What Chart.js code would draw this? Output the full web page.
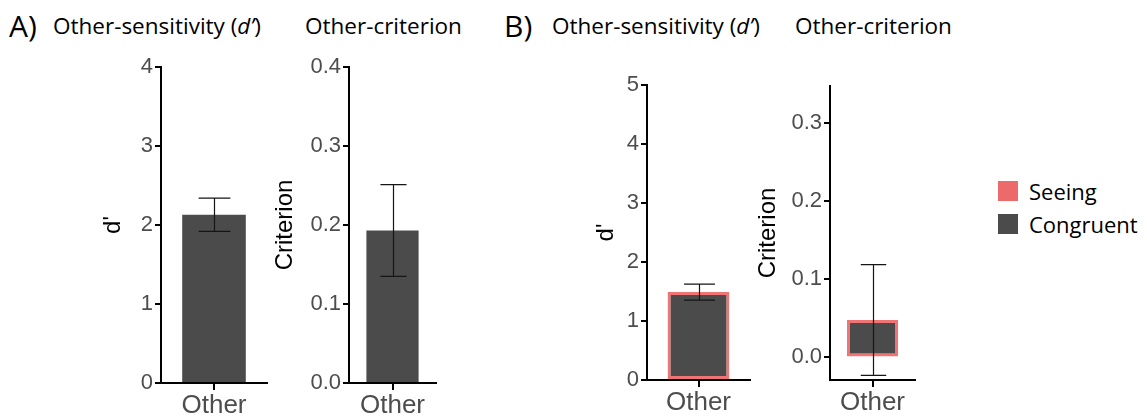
<!DOCTYPE html>
<html>
<head>
<meta charset="utf-8">
<script src="https://cdn.jsdelivr.net/npm/chart.js@4/dist/chart.umd.min.js"></script>
<style>
  html, body { margin: 0; padding: 0; background: #fff; }
  body { width: 1147px; height: 417px; position: relative; overflow: hidden; }
  canvas { position: absolute; }
  .txt { position: absolute; font-family: 'Open Sans', sans-serif; color: #000; white-space: nowrap; line-height: 1; }
  .head { font-size: 22.5px; top: 15px; }
  .tag { font-size: 30px; top: 11px; }
  .swatch { position: absolute; width: 20px; height: 20px; }
  .leg { font-size: 22px; }
</style>
</head>
<body>
<div class="txt tag" style="left:9px">A)</div>
<div class="txt head" style="left:53px">Other-sensitivity (<i>d’</i>)</div>
<div class="txt head" style="left:305px">Other-criterion</div>
<div class="txt tag" style="left:504px">B)</div>
<div class="txt head" style="left:552px">Other-sensitivity (<i>d’</i>)</div>
<div class="txt head" style="left:795px">Other-criterion</div>

<canvas id="aSens"></canvas>
<canvas id="aCrit"></canvas>
<canvas id="bSens"></canvas>
<canvas id="bCrit"></canvas>

<div id="legend"></div>

<script>
// data
const categories = ['Other']
const aSensitivity = [2.13]
const aSensitivityErr = [0.21]
const aCriterion = [0.193]
const aCriterionErr = [0.058]
const bSensitivity = [1.49]
const bSensitivityErr = [0.135]
const bCriterion = [0.048]
const bCriterionErr = [0.071]

const aSensTicks = [0, 1, 2, 3, 4]
const aCritTicks = [0, 0.1, 0.2, 0.3, 0.4]
const bSensTicks = [0, 1, 2, 3, 4, 5]
const bCritTicks = [0, 0.1, 0.2, 0.3]
const bCritRange = [-0.029, 0.348]

const legendLabels = ['Seeing', 'Congruent']
const legendColors = ['#ec6a6a', '#4b4b4b']

const barFill = '#4b4b4b'
const seeingEdge = '#f07474'

// error bars drawn through the y scale of each chart
const errorBars = {
  id: 'errorBars',
  afterDatasetsDraw(chart) {
    const ctx = chart.ctx
    const y = chart.scales.y
    chart.data.datasets.forEach(function (ds, di) {
      chart.getDatasetMeta(di).data.forEach(function (bar, i) {
        let v = ds.data[i]
        let e = ds.errors[i]
        let top = y.getPixelForValue(v + e)
        let bot = y.getPixelForValue(v - e)
        let x = Math.round(bar.x) + 0.5
        let half = bar.width / 4
        ctx.save()
        ctx.strokeStyle = '#151515'
        ctx.lineWidth = 1.2
        ctx.beginPath()
        ctx.moveTo(x, top); ctx.lineTo(x, bot)
        ctx.moveTo(x - half, top); ctx.lineTo(x + half, top)
        ctx.moveTo(x - half, bot); ctx.lineTo(x + half, bot)
        ctx.stroke()
        ctx.restore()
      })
    })
  }
}

Chart.defaults.font.family = "'Liberation Sans', Arial, sans-serif"

function makePanel(id, box, values, errs, ticks, range, decimals, yTitle, edge) {
  const padTop = 20, padRight = 2, xH = 40
  let cv = document.getElementById(id)
  cv.width = box.yW + box.areaW + padRight
  cv.height = padTop + box.areaH + xH
  cv.style.left = (box.axisX - box.yW) + 'px'
  cv.style.top = (box.areaTop - padTop) + 'px'

  return new Chart(cv, {
    type: 'bar',
    data: {
      labels: categories,
      datasets: [{
        data: values,
        errors: errs,
        backgroundColor: barFill,
        borderColor: edge || barFill,
        borderWidth: edge ? 3 : 0,
        borderSkipped: false,
        barPercentage: 0.6,
        categoryPercentage: 1
      }]
    },
    options: {
      responsive: false,
      animation: false,
      events: [],
      layout: { padding: { top: padTop, right: padRight, left: 0, bottom: 0 } },
      plugins: { legend: { display: false }, tooltip: { enabled: false } },
      scales: {
        x: {
          afterFit: function (s) { s.height = xH },
          border: { color: '#000', width: 2 },
          grid: { drawOnChartArea: false, offset: false, tickLength: 7, tickColor: '#000', lineWidth: 2 },
          ticks: { color: '#4d4d4d', padding: 0, font: { size: 26 } }
        },
        y: {
          min: range[0],
          max: range[1],
          afterFit: function (s) { s.width = box.yW },
          afterBuildTicks: function (s) { s.ticks = ticks.map(function (v) { return { value: v } }) },
          border: { color: '#000', width: 2 },
          grid: { drawOnChartArea: false, tickLength: 6, tickColor: '#000', lineWidth: 2 },
          ticks: {
            color: '#4d4d4d', padding: 2, font: { size: 22 },
            callback: function (v) { return Number(v).toFixed(decimals) }
          },
          title: { display: true, text: yTitle, color: '#000', padding: 0, font: { size: 24 } }
        }
      }
    },
    plugins: [errorBars]
  })
}

makePanel('aSens', { axisX: 161, yW: 62, areaW: 106, areaTop: 67, areaH: 316 },
  aSensitivity, aSensitivityErr, aSensTicks, [aSensTicks[0], aSensTicks[aSensTicks.length - 1]], 0, "d'")
makePanel('aCrit', { axisX: 349, yW: 78, areaW: 87, areaTop: 67, areaH: 316 },
  aCriterion, aCriterionErr, aCritTicks, [aCritTicks[0], aCritTicks[aCritTicks.length - 1]], 1, 'Criterion')
makePanel('bSens', { axisX: 647, yW: 55, areaW: 103, areaTop: 85, areaH: 295 },
  bSensitivity, bSensitivityErr, bSensTicks, [bSensTicks[0], bSensTicks[bSensTicks.length - 1]], 0, "d'", seeingEdge)
makePanel('bCrit', { axisX: 830, yW: 76, areaW: 85, areaTop: 86, areaH: 294 },
  bCriterion, bCriterionErr, bCritTicks, bCritRange, 1, 'Criterion', seeingEdge)

// legend
let legend = document.getElementById('legend')
legendLabels.forEach(function (label, i) {
  let top = 181 + i * 33
  legend.innerHTML += '<div class="swatch" style="left:998px;top:' + top + 'px;background:' + legendColors[i] + '"></div>' +
    '<div class="txt leg" style="left:1029px;top:' + (top - 1) + 'px">' + label + '</div>'
})
</script>
</body>
</html>
